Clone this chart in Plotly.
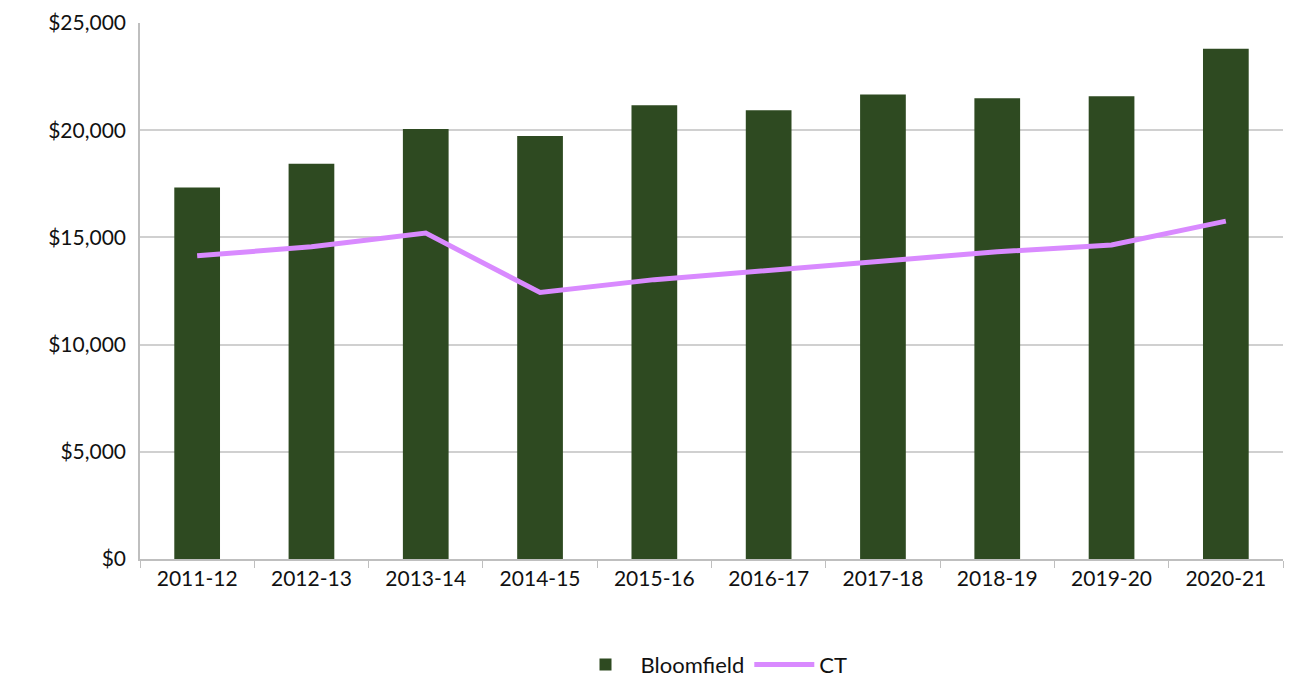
import plotly.graph_objects as go

years = ["2011-12", "2012-13", "2013-14", "2014-15", "2015-16",
         "2016-17", "2017-18", "2018-19", "2019-20", "2020-21"]
bloomfield = [17330, 18440, 20060, 19730, 21160, 20930, 21670, 21490, 21580, 23800]
ct = [14140, 14560, 15200, 12430, 13030, 13450, 13860, 14330, 14650, 15760]
y_ticks = [0, 5000, 10000, 15000, 20000, 25000]
y_labels = ["$0", "$5,000", "$10,000", "$15,000", "$20,000", "$25,000"]

FONT = "Lato, 'Open Sans', sans-serif"

fig = go.Figure()
fig.add_trace(go.Bar(x=years, y=bloomfield, name="Bloomfield",
                     marker=dict(color="#2E4A21", line=dict(width=0))))
fig.add_trace(go.Scatter(x=years, y=ct, name="CT", mode="lines",
                         line=dict(color="#D98AFF", width=5)))

fig.update_layout(
    width=1284, height=674,
    margin=dict(l=132, r=9, t=15, b=123, autoexpand=False),
    paper_bgcolor="white", plot_bgcolor="white",
    font=dict(family=FONT, size=21, color="#111111"),
    bargap=0.6,
    showlegend=True,
    legend=dict(orientation="h", x=0.5, xanchor="center", y=-0.197, yanchor="middle",
                font=dict(size=22), traceorder="normal", itemwidth=60),
    xaxis=dict(type="category", showline=True, linecolor="#BFBFBF", linewidth=1.5,
               ticks="outside", tickson="boundaries", ticklen=7, tickcolor="#BFBFBF",
               tickfont=dict(size=21), showgrid=False, automargin=False),
    yaxis=dict(range=[0, 25000], tickvals=y_ticks, ticktext=y_labels,
               showline=True, linecolor="#BFBFBF", linewidth=1.5,
               showgrid=True, gridcolor="#D0D0D0", gridwidth=1.5,
               tickfont=dict(size=21), ticks="", ticklabelstandoff=8,
               ticklabeloverflow="allow",
               zeroline=False, automargin=False),
)

fig.write_html("out.html")
